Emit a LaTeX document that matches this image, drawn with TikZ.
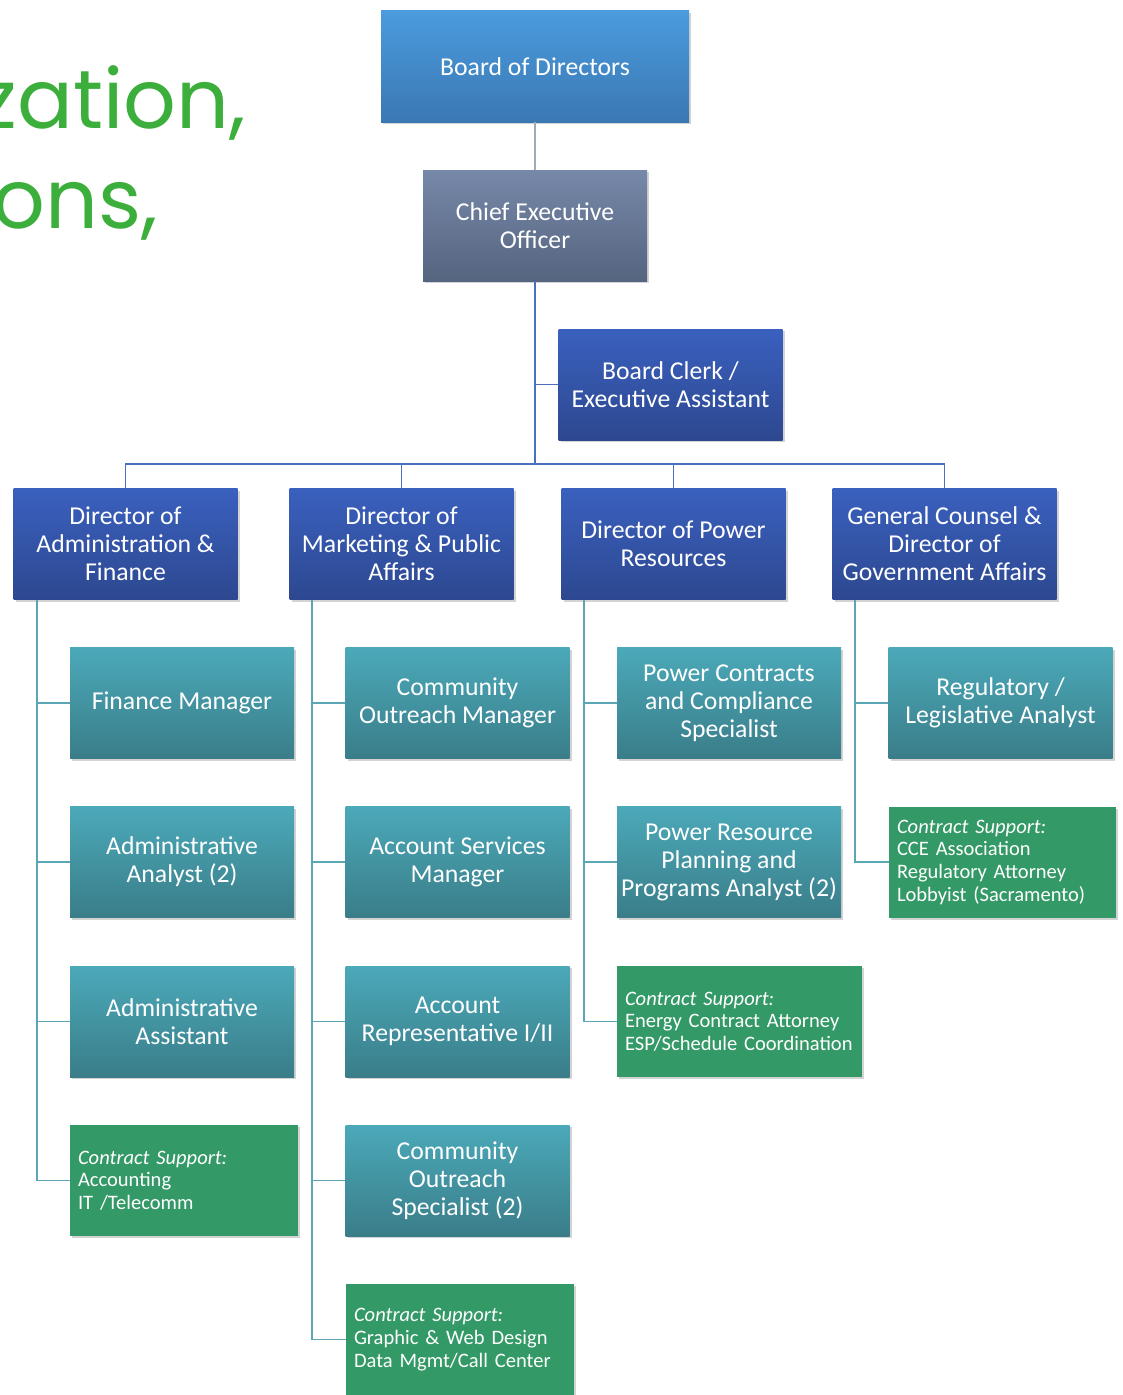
\documentclass[tikz,border=0pt]{standalone}
\usepackage{fontspec}
\setmainfont{Carlito}
\newfontfamily\titlefont{Poppins}
\usetikzlibrary{shadows}
\definecolor{bodtop}{HTML}{4B9BDE}
\definecolor{bodbot}{HTML}{3A78B2}
\definecolor{ceotop}{HTML}{7789A9}
\definecolor{ceobot}{HTML}{55647F}
\definecolor{dirtop}{HTML}{3A60BE}
\definecolor{dirbot}{HTML}{2D4890}
\definecolor{teatop}{HTML}{4BA9B9}
\definecolor{teabot}{HTML}{3A7D89}
\definecolor{csgreen}{HTML}{339966}
\definecolor{titlegreen}{HTML}{3BAE3B}
\definecolor{graylink}{HTML}{9FAABC}
\definecolor{bluelink}{HTML}{4A6EC0}
\definecolor{teallink}{HTML}{5AA6B6}
\tikzset{
  box/.style={minimum width=168pt, minimum height=83.25pt, align=center, text=white,
    inner sep=2pt, font=\fontsize{19.3}{21}\selectfont,
    drop shadow={opacity=0.35, shadow xshift=1.5pt, shadow yshift=-1.5pt}},
  bodbox/.style={box, top color=bodtop, bottom color=bodbot},
  ceobox/.style={box, top color=ceotop, bottom color=ceobot},
  dirbox/.style={box, top color=dirtop, bottom color=dirbot},
  teabox/.style={box, top color=teatop, bottom color=teabot},
  csbox/.style={minimum height=83.25pt, align=left, text=white, fill=csgreen,
    inner xsep=6pt, inner ysep=2pt, font=\fontsize{15.4}{17}\selectfont,
    drop shadow={opacity=0.35, shadow xshift=1.5pt, shadow yshift=-1.5pt}},
  glink/.style={draw=graylink, line width=1.4pt},
  blink/.style={draw=bluelink, line width=1.4pt},
  tlink/.style={draw=teallink, line width=1.4pt},
}
\begin{document}
\begin{tikzpicture}[x=0.75pt, y=-0.75pt]
\useasboundingbox (0,0) rectangle (1122,1395);
\clip (0,0) rectangle (1122,1395);
% title fragment
\node[anchor=base east, inner sep=0pt, text=titlegreen, font=\titlefont\fontsize{62}{75}\selectfont] (t1) at (246,128) {zation,};
\node[anchor=base east, inner sep=0pt, text=titlegreen, font=\titlefont\fontsize{62}{75}\selectfont] (t2) at (158,228) {ons,};
% top
\node[bodbox, minimum width=231pt] (bod) at (535,66.5) {Board of Directors};
\node[ceobox] (ceo) at (535,225.5) {Chief Executive\\Officer};
\node[dirbox] (clerk) at (670.5,384.5) {Board Clerk /\\Executive Assistant};
% directors
\node[dirbox] (d1) at (125.5,544) {Director of\\Administration \&\\Finance};
\node[dirbox] (d2) at (401.5,544) {Director of\\Marketing \& Public\\Affairs};
\node[dirbox] (d3) at (673.5,544) {Director of Power\\Resources};
\node[dirbox] (d4) at (944.5,544) {General Counsel \&\\Director of\\Government Affairs};
% column 1
\node[teabox] (a1) at (182,703) {Finance Manager};
\node[teabox] (a2) at (182,862) {Administrative\\Analyst (2)};
\node[teabox] (a3) at (182,1021.5) {Administrative\\Assistant};
\node[csbox, minimum width=171pt, text width=159pt] (a4) at (184,1180.5) {\textit{Contract Support:}\\Accounting\\IT /Telecomm};
% column 2
\node[teabox] (b1) at (457.5,703) {Community\\Outreach Manager};
\node[teabox] (b2) at (457.5,862) {Account Services\\Manager};
\node[teabox] (b3) at (457.5,1021.5) {Account\\Representative I/II};
\node[teabox] (b4) at (457.5,1180.5) {Community\\Outreach\\Specialist (2)};
\node[csbox, minimum width=171pt, text width=159pt] (b5) at (460,1339.5) {\textit{Contract Support:}\\Graphic \& Web Design\\Data Mgmt/Call Center};
% column 3
\node[teabox] (c1) at (729,703) {Power Contracts\\and Compliance\\Specialist};
\node[teabox] (c2) at (729,862) {Power Resource\\Planning and\\Programs Analyst (2)};
\node[csbox, minimum width=183.75pt, text width=171.75pt] (c3) at (739.5,1021.5) {\textit{Contract Support:}\\Energy Contract Attorney\\ESP/Schedule Coordination};
% column 4
\node[teabox] (e1) at (1000.5,703) {Regulatory /\\Legislative Analyst};
\node[csbox, minimum width=170.25pt, text width=158.25pt] (e2) at (1002.5,862) {\textit{Contract Support:}\\CCE Association\\Regulatory Attorney\\Lobbyist (Sacramento)};
% connectors
\coordinate (bus) at (535,464);
\coordinate (s1) at (37,600);
\coordinate (s2) at (312,600);
\coordinate (s3) at (584,600);
\coordinate (s4) at (855,600);
\draw[glink] (bod) -- (ceo);
\draw[blink] (ceo.south) -- (bus);
\draw[blink] (ceo.south |- clerk.west) -- (clerk.west);
\draw[blink] (d1.north) |- (bus) -| (d4.north);
\draw[blink] (d2.north) -- (d2.north |- bus);
\draw[blink] (d3.north) -- (d3.north |- bus);
\foreach \n in {a1,a2,a3,a4} \draw[tlink] (s1) |- (\n.west);
\foreach \n in {b1,b2,b3,b4,b5} \draw[tlink] (s2) |- (\n.west);
\foreach \n in {c1,c2,c3} \draw[tlink] (s3) |- (\n.west);
\foreach \n in {e1,e2} \draw[tlink] (s4) |- (\n.west);
\end{tikzpicture}
\end{document}
